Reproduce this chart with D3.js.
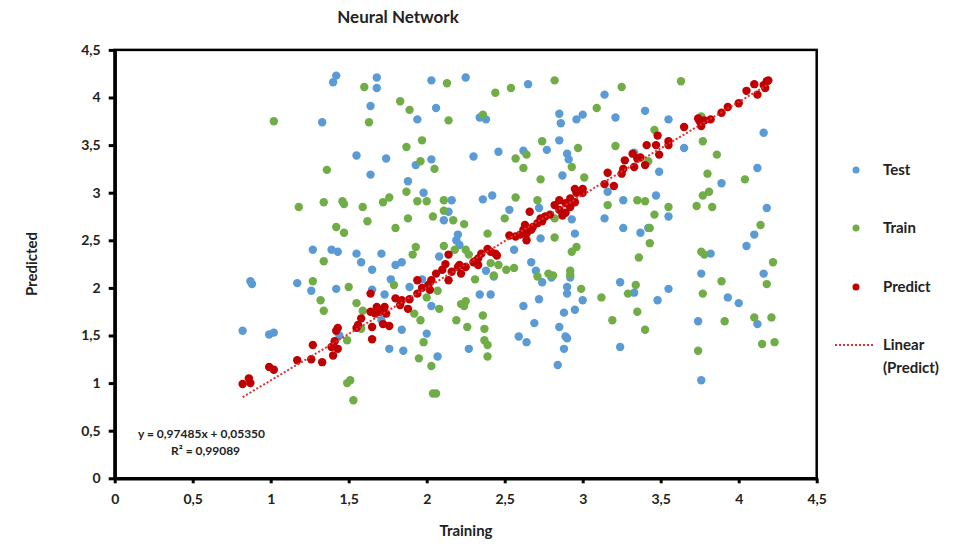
<!DOCTYPE html>
<html><head><meta charset="utf-8">
<script src="https://cdn.jsdelivr.net/npm/d3@7"></script>
<style>
body{margin:0;background:#fff;}
text{font-family:Lato,"Open Sans",sans-serif;font-weight:bold;fill:#222;}
</style></head>
<body><svg id="chart" width="967" height="544"></svg>
<script>
const title = "Neural Network";
const xLabel = "Training";
const yLabel = "Predicted";
const xTicks = [0,0.5,1,1.5,2,2.5,3,3.5,4,4.5];
const yTicks = [0,0.5,1,1.5,2,2.5,3,3.5,4,4.5];
const seriesNames = ["Test","Train","Predict"];
const trendName = ["Linear","(Predict)"];
const trendSlope = 0.97485, trendIntercept = 0.05350;
const eqText = "y = 0,97485x + 0,05350";
const r2Text = "R² = 0,99089";

const testX = [1.42,1.40,1.68,1.68,2.03,2.25,1.64,2.06,1.33,1.94,1.55,1.74,2.03,1.93,1.64,1.88,1.98,2.16,2.14,2.11,2.20,2.19,2.21,1.27,1.39,1.43,1.55,1.71,2.08,1.58,1.80,1.84,2.65,3.14,2.34,2.38,2.85,2.86,2.96,3.00,3.21,2.85,2.77,2.62,2.46,2.30,2.90,2.91,3.33,2.87,3.16,2.36,2.42,3.26,2.53,2.72,2.93,3.14,3.26,2.95,2.73,2.56,2.67,3.40,3.55,4.16,3.65,3.49,4.12,3.89,3.47,4.18,3.55,3.37,3.42,4.10,4.05,3.82,1.65,1.17,1.26,1.42,1.65,1.73,1.77,1.89,1.97,2.03,1.44,1.84,2.00,1.76,1.85,2.07,1.71,2.70,2.74,2.38,2.43,2.80,2.92,2.90,2.90,3.24,3.33,2.34,2.41,2.72,3.00,2.95,2.88,2.62,2.69,2.85,2.59,2.64,2.89,2.90,2.88,2.27,3.24,2.84,3.76,4.16,3.55,3.48,3.93,4.00,3.74,4.12,3.76,0.87,0.88,0.82,0.99,1.02];
const testY = [4.23,4.16,4.21,4.10,4.18,4.21,3.91,3.89,3.74,3.77,3.39,3.36,3.35,3.29,3.19,3.12,3.00,2.92,2.80,2.71,2.56,2.50,2.45,2.40,2.40,2.38,2.36,2.36,2.33,2.27,2.24,2.27,4.14,4.03,3.79,3.77,3.83,3.73,3.77,3.82,3.79,3.55,3.45,3.44,3.43,3.38,3.41,3.35,3.42,3.18,3.01,2.93,2.97,2.92,2.82,2.84,2.72,2.73,2.63,2.57,2.52,2.40,2.27,3.86,3.77,3.63,3.47,3.22,3.26,3.10,2.97,2.84,2.75,2.58,2.63,2.56,2.44,2.36,2.19,2.05,1.97,1.99,1.98,1.93,2.09,2.01,2.09,1.81,1.50,1.56,1.52,1.36,1.34,1.28,1.66,2.18,2.06,2.18,2.12,2.11,2.11,2.01,1.94,2.06,1.95,1.93,1.93,1.88,1.87,1.77,1.74,1.81,1.63,1.59,1.49,1.43,1.49,1.47,1.36,1.36,1.38,1.19,2.15,2.15,1.99,1.87,1.90,1.84,1.65,1.62,1.03,2.07,2.04,1.55,1.51,1.53];

const trainX = [1.02,1.60,2.13,1.83,1.89,1.63,2.14,1.97,1.87,1.96,2.05,1.36,1.87,1.76,1.72,1.94,2.00,2.11,2.11,1.18,1.34,1.46,1.47,1.59,2.17,2.24,2.04,1.88,1.62,1.42,1.47,1.80,1.93,1.91,2.11,2.18,2.25,2.27,1.34,2.82,2.44,2.54,3.25,3.09,2.36,2.74,2.97,3.21,2.57,2.64,2.62,2.93,3.01,2.73,2.57,2.71,3.35,3.16,2.50,2.82,2.39,2.82,2.96,2.93,3.36,2.41,2.46,3.63,3.46,3.77,3.86,3.42,3.80,4.04,3.81,3.77,3.40,3.55,3.73,3.83,3.46,3.43,4.14,3.43,3.76,3.78,4.22,3.76,1.27,1.50,1.32,1.34,1.55,1.59,1.79,2.07,2.00,2.08,1.92,1.96,2.22,2.19,1.58,1.49,1.98,1.95,2.03,1.49,1.51,1.53,2.04,2.06,2.51,2.56,2.43,2.31,2.71,2.78,2.81,2.92,2.92,2.99,3.12,3.34,3.29,3.35,3.19,2.25,2.24,2.36,2.26,2.37,2.37,2.39,2.39,3.89,4.18,3.77,3.40,3.91,4.10,4.21,4.15,4.23,3.74];
const trainY = [3.75,4.11,4.15,3.96,3.87,3.74,3.76,3.55,3.48,3.33,3.25,3.24,3.01,2.95,2.90,2.91,2.91,2.92,2.81,2.85,2.90,2.91,2.88,2.85,2.71,2.67,2.75,2.73,2.70,2.64,2.58,2.63,2.43,2.35,2.44,2.40,2.40,2.35,2.28,4.18,4.05,4.10,4.11,3.89,3.82,3.54,3.47,3.49,3.36,3.40,3.26,3.27,3.16,3.14,2.95,2.92,2.92,2.87,2.73,2.73,2.57,2.53,2.43,2.38,2.32,2.26,2.24,4.17,3.66,3.54,3.40,3.33,3.20,3.14,3.01,2.97,2.91,2.85,2.86,2.85,2.77,2.63,2.66,2.47,2.38,2.35,2.27,3.80,2.07,2.01,1.87,1.76,1.84,1.76,2.03,1.97,1.90,1.78,1.73,1.66,1.83,1.66,1.57,1.45,1.43,1.26,1.18,1.00,1.03,0.82,0.89,0.89,2.19,2.21,2.13,2.09,2.12,2.15,2.13,2.18,2.14,1.99,1.90,2.03,1.94,1.75,1.66,1.86,1.81,1.71,1.59,1.57,1.45,1.40,1.28,2.07,2.04,1.94,1.56,1.65,1.69,1.69,1.41,1.43,1.34];

const predictX = [0.82,0.86,0.87,0.99,1.02,1.17,1.26,1.33,1.27,1.40,1.39,1.43,1.41,1.42,1.43,1.55,1.56,1.58,1.65,1.65,1.64,1.64,1.68,1.67,1.73,1.74,1.72,1.76,1.70,1.80,1.84,1.83,1.88,1.89,1.94,1.94,1.97,2.01,2.02,2.03,2.06,2.10,2.12,2.14,2.16,2.20,2.22,2.14,2.21,2.25,2.30,2.33,2.31,2.33,2.35,2.39,2.41,2.44,2.45,2.53,2.57,2.60,2.64,2.68,2.63,2.62,2.64,2.67,2.66,2.79,2.76,2.73,2.74,2.71,2.82,2.85,2.89,2.92,2.95,2.85,2.89,2.92,2.96,2.87,2.95,3.00,3.00,3.14,3.20,3.16,3.25,3.26,3.27,3.32,3.35,3.33,3.37,3.40,3.41,3.47,3.48,3.49,3.55,3.55,3.65,3.74,3.75,3.78,3.82,3.76,3.89,3.93,4.00,4.05,4.10,4.12,4.16,4.17,4.18,4.19];
const predictY = [0.99,1.05,1.00,1.17,1.14,1.24,1.25,1.22,1.40,1.29,1.38,1.36,1.44,1.55,1.58,1.58,1.61,1.68,1.59,1.46,1.94,1.75,1.80,1.73,1.80,1.73,1.62,1.60,1.75,1.89,1.87,1.82,1.78,1.88,1.94,2.08,2.00,2.03,1.98,2.08,2.15,2.19,2.25,2.08,2.17,2.22,2.15,2.35,2.24,2.22,2.27,2.24,2.28,2.31,2.36,2.41,2.38,2.36,2.34,2.55,2.54,2.56,2.50,2.64,2.66,2.61,2.57,2.61,2.80,2.77,2.75,2.73,2.70,2.68,2.87,2.92,2.89,2.94,2.90,2.82,2.79,2.85,3.00,2.76,3.04,3.04,3.00,3.09,3.07,3.21,3.20,3.25,3.34,3.41,3.36,3.27,3.37,3.29,3.50,3.50,3.60,3.40,3.54,3.50,3.69,3.78,3.75,3.76,3.77,3.70,3.84,3.90,3.94,4.07,4.14,4.03,4.13,4.10,4.17,4.18];

const colors = {Test:"#5B9BD5", Train:"#70AD47", Predict:"#C00000"};

const svg = d3.select("#chart");
const plot = {left:114.7, right:816.7, top:49.9, bottom:478.3};
const x = d3.scaleLinear().domain([0,4.5]).range([plot.left, plot.right]);
const y = d3.scaleLinear().domain([0,4.5]).range([plot.bottom, plot.top]);
const fmt = d => String(d).replace(".", ",");

// frame
svg.append("rect").attr("x",plot.left).attr("y",plot.top)
  .attr("width",plot.right-plot.left).attr("height",plot.bottom-plot.top)
  .attr("fill","none").attr("stroke","#000").attr("stroke-width",2.5);

// axes
const gx = svg.append("g").attr("transform",`translate(0,${plot.bottom})`)
  .call(d3.axisBottom(x).tickValues(xTicks).tickFormat(fmt).tickSize(5).tickSizeOuter(0));
const gy = svg.append("g").attr("transform",`translate(${plot.left},0)`)
  .call(d3.axisLeft(y).tickValues(yTicks).tickFormat(fmt).tickSize(6).tickSizeOuter(0));
[gx,gy].forEach(g=>{
  g.select(".domain").attr("stroke","#000").attr("stroke-width",3.5);
  g.selectAll(".tick line").attr("stroke","#000").attr("stroke-width",3);
  g.selectAll(".tick text").style("font-size","14px").style("font-family","Lato, sans-serif").style("font-weight","bold").attr("fill","#222");
});
gx.selectAll(".tick text").attr("dy","1.3em");
gy.selectAll(".tick text").attr("x",-14);

// points
function drawSeries(xs, ys, col){
  svg.append("g").selectAll("circle").data(xs.map((v,i)=>[v,ys[i]])).join("circle")
    .attr("cx",d=>x(d[0])).attr("cy",d=>y(d[1])).attr("r",4.2).attr("fill",col);
}
drawSeries(testX,testY,colors.Test);
drawSeries(trainX,trainY,colors.Train);
drawSeries(predictX,predictY,colors.Predict);

// trendline
const tx0 = d3.min(predictX), tx1 = d3.max(predictX);
svg.append("line").attr("x1",x(tx0)).attr("y1",y(trendSlope*tx0+trendIntercept))
  .attr("x2",x(tx1)).attr("y2",y(trendSlope*tx1+trendIntercept))
  .attr("stroke","#E03030").attr("stroke-width",2).attr("stroke-dasharray","2,2");

// equation
svg.append("text").attr("x",138).attr("y",438).style("font-size","12px").text(eqText);
svg.append("text").attr("x",171).attr("y",455).style("font-size","12px").text(r2Text);

// title & labels
svg.append("text").attr("x",398).attr("y",23).attr("text-anchor","middle").style("font-size","17px").text(title);
svg.append("text").attr("x",466).attr("y",536).attr("text-anchor","middle").style("font-size","15px").text(xLabel);
svg.append("text").attr("transform","translate(37,264) rotate(-90)").attr("text-anchor","middle").style("font-size","15px").text(yLabel);

// legend
const legY = [170,228,287];
seriesNames.forEach((n,i)=>{
  svg.append("circle").attr("cx",856).attr("cy",legY[i]).attr("r",3.5).attr("fill",colors[n]);
  svg.append("text").attr("x",883).attr("y",legY[i]+5).style("font-size","15px").text(n);
});
svg.append("line").attr("x1",835).attr("x2",875).attr("y1",345).attr("y2",345)
  .attr("stroke","#E03030").attr("stroke-width",2).attr("stroke-dasharray","2,2");
svg.append("text").attr("x",883).attr("y",350).style("font-size","15px").text(trendName[0]);
svg.append("text").attr("x",883).attr("y",373).style("font-size","15px").text(trendName[1]);
</script></body></html>
